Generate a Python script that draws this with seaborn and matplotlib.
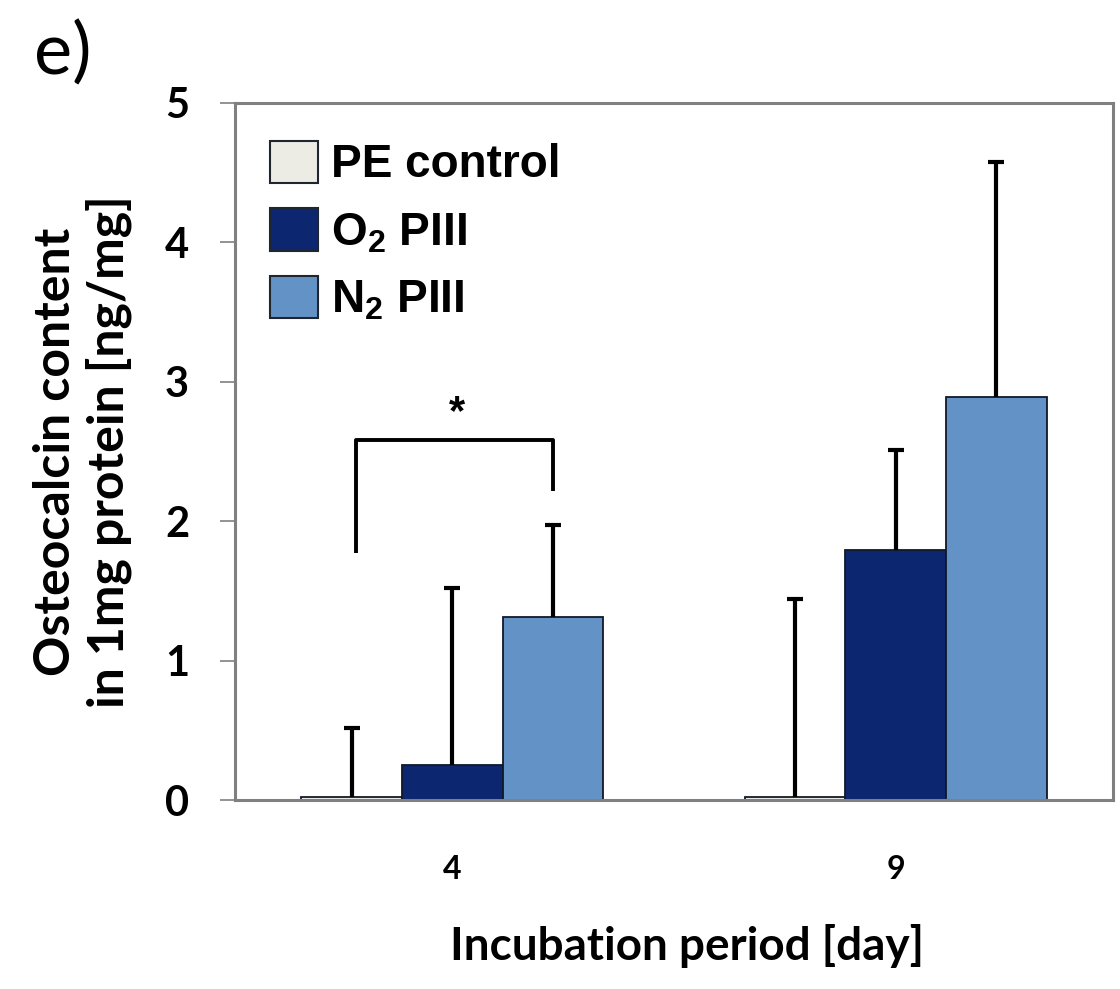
import matplotlib
matplotlib.use("Agg")
import matplotlib.pyplot as plt
from matplotlib.patches import Rectangle
import numpy as np
import pandas as pd
import seaborn as sns

days = ["4", "9"]
groups = ["PE control", "O2 PIII", "N2 PIII"]
legend_labels = ["PE control", r"O$_\mathbf{2}$ PIII", r"N$_\mathbf{2}$ PIII"]
pe_control = [0.02, 0.02]
o2_piii = [0.25, 1.79]
n2_piii = [1.31, 2.89]
pe_err = [0.50, 1.42]
o2_err = [1.27, 0.72]
n2_err = [0.66, 1.69]
colors = ["#ecebe4", "#0d2670", "#6393c6"]

sns.set_style("white")
plt.rcParams["font.family"] = ["Lato", "DejaVu Sans"]
plt.rcParams["mathtext.fontset"] = "custom"
plt.rcParams["mathtext.rm"] = "Liberation Sans"
plt.rcParams["mathtext.bf"] = "Liberation Sans:bold"
for k in ["text.color", "axes.labelcolor", "xtick.color", "ytick.color"]:
    plt.rcParams[k] = "black"

df = pd.DataFrame({
    "day": days * 3,
    "group": [g for g in groups for _ in days],
    "value": pe_control + o2_piii + n2_piii,
})
errs = [pe_err, o2_err, n2_err]

fig = plt.figure(figsize=(11.2, 9.89), dpi=100)
ax = fig.add_axes([0.2098, 0.1911, 0.784, 0.7048])

sns.barplot(data=df, x="day", y="value", hue="group", order=days, hue_order=groups,
            palette=colors, saturation=1, width=0.68, errorbar=None,
            edgecolor="#101828", linewidth=1.3, ax=ax, legend=False)

# upper error bars only
for cont, e in zip(ax.containers, errs):
    xs = [b.get_x() + b.get_width() / 2 for b in cont]
    ys = [b.get_height() for b in cont]
    _, caps, _ = ax.errorbar(xs, ys, yerr=[np.zeros(len(e)), e], fmt="none",
                             ecolor="black", elinewidth=3, capsize=5.5,
                             capthick=3, zorder=3)
    caps[0].set_visible(False)

# significance bracket day 4
x_pe = ax.containers[0][0].get_x() + ax.containers[0][0].get_width() / 2
x_n2 = ax.containers[2][0].get_x() + ax.containers[2][0].get_width() / 2
ax.plot([x_pe + 0.01, x_pe + 0.01, x_n2, x_n2], [1.77, 2.58, 2.58, 2.22],
        color="black", lw=2.8, solid_capstyle="butt")
ax.text((x_pe + x_n2) / 2 + 0.01, 2.63, "*", ha="center", va="bottom",
        fontsize=30, fontweight="bold", family="Liberation Sans")

ax.set_xlim(-0.49, 1.49)
ax.set_ylim(0, 5)
ax.set_yticks([0, 1, 2, 3, 4, 5])
for s in ax.spines.values():
    s.set_visible(True)
    s.set_color("#808080")
    s.set_linewidth(2.2)
ax.tick_params(axis="y", which="major", left=True, length=11, width=1.2,
               color="#808080", pad=22, labelsize=30)
ax.tick_params(axis="x", bottom=False, pad=36, labelsize=23)
for t in ax.get_yticklabels() + ax.get_xticklabels():
    t.set_fontweight("bold")

ax.set_xlabel("Incubation period [day]", fontsize=33, fontweight="bold")
ax.xaxis.set_label_coords(0.515, -0.178)
ax.set_ylabel("Osteocalcin content\nin 1mg protein [ng/mg]", fontsize=36,
              fontweight="bold", labelpad=24, linespacing=1.2)

handles = [Rectangle((0, 0), 1, 1, facecolor=c, edgecolor="#202630", linewidth=1.5)
           for c in colors]
leg = ax.legend(handles, legend_labels, loc="upper left", bbox_to_anchor=(0.04, 0.946),
                frameon=False, borderpad=0, borderaxespad=0, handlelength=1.05,
                handleheight=1.05, handletextpad=0.28, labelspacing=0.45,
                prop={"family": "Liberation Sans", "weight": "bold", "size": 33})

fig.text(0.03, 0.925, "e)", fontsize=52, family="Lato")

fig.savefig("out.png", dpi=100)
